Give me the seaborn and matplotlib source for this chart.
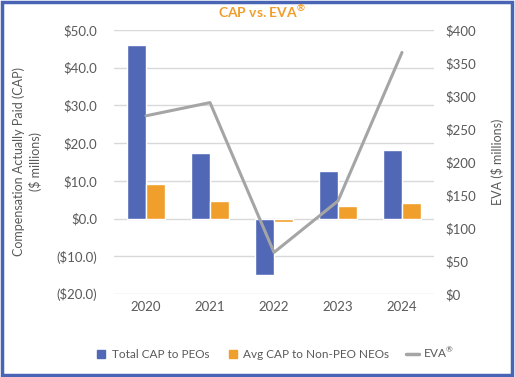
import pandas as pd
import seaborn as sns
import matplotlib.pyplot as plt
from matplotlib.patches import Rectangle
from matplotlib.lines import Line2D

# values ($ millions)
years = ['2020', '2021', '2022', '2023', '2024']
cap_peo = [46.1, 17.3, -15.0, 12.7, 18.1]
cap_neo = [9.1, 4.7, -1.0, 3.4, 4.2]
eva = [270, 290, 63, 141, 366]

series_names = ['Total CAP to PEOs', 'Avg CAP to Non-PEO NEOs']
blue = '#5068B6'
orange = '#F09E2C'
grey = '#A5A5A5'
text_col = '#595959'

bars = pd.DataFrame({
    'Year': years * 2,
    'CAP': cap_peo + cap_neo,
    'Series': [series_names[0]] * len(years) + [series_names[1]] * len(years),
})
line = pd.DataFrame({'Year': years, 'EVA': eva})

sns.set_theme(style='white')
plt.rcParams['font.family'] = ['Lato', 'DejaVu Sans']
plt.rcParams['mathtext.fontset'] = 'custom'
plt.rcParams['mathtext.rm'] = 'Lato'
plt.rcParams['mathtext.bf'] = 'Lato:bold'

fig = plt.figure(figsize=(5.15, 3.77), dpi=100)
ax = fig.add_axes([0.2214, 0.2202, 0.6213, 0.7002])

sns.barplot(data=bars, x='Year', y='CAP', hue='Series', palette=[blue, orange],
            width=0.58, saturation=1, ax=ax, legend=False)
ax.set_ylim(-20, 50)
ax.set_yticks(range(-20, 51, 10))
ax.set_yticklabels([f'(${-v:.1f})' if v < 0 else f'${v:.1f}' for v in range(-20, 51, 10)])
ax.grid(axis='y', color='#D9D9D9', linewidth=1)
ax.set_axisbelow(True)
ax.set_xlabel('')
ax.set_ylabel('Compensation Actually Paid (CAP)\n($ millions)', color=text_col,
              fontsize=9, linespacing=1.35, va='center')
ax.yaxis.set_label_coords(-0.27, 0.5)
ax.tick_params(axis='both', length=0, labelsize=9.5, labelcolor=text_col)
ax.tick_params(axis='x', pad=5)
ax.tick_params(axis='y', pad=12)
sns.despine(ax=ax, left=True, bottom=True)

ax2 = ax.twinx()
sns.lineplot(data=line, x='Year', y='EVA', color=grey, linewidth=2.2, ax=ax2, sort=False)
ax2.set_ylim(0, 400)
ax2.set_yticks(range(0, 401, 50))
ax2.set_yticklabels([f'${v}' for v in range(0, 401, 50)])
ax2.set_ylabel('EVA ($ millions)', color=text_col, fontsize=9, va='center')
ax2.yaxis.set_label_coords(1.197, 0.5)
ax2.tick_params(axis='y', length=0, labelsize=9.5, labelcolor=text_col, pad=8)
ax2.grid(False)
sns.despine(ax=ax2, left=True, bottom=True, right=True)
ax.set_xlim(-0.5, 4.5)

fig.text(0.509, 0.97, r'CAP vs. EVA$^{\mathbf{®}}$', color=orange, fontsize=10,
         fontweight='bold', ha='center', va='center')

handles = [
    Line2D([], [], marker='s', linestyle='', color=blue, markersize=5.5),
    Line2D([], [], marker='s', linestyle='', color=orange, markersize=5.5),
    Line2D([], [], color=grey, linewidth=2.5),
]
fig.legend(handles, series_names + [r'EVA$^{\mathrm{®}}$'], loc='center',
           bbox_to_anchor=(0.533, 0.066), ncol=3, frameon=False, fontsize=8.5,
           handlelength=1.1, handletextpad=0.35, columnspacing=1.4, labelcolor=text_col)

fig.patches.append(Rectangle((0.003, 0.004), 0.992, 0.99, transform=fig.transFigure,
                             fill=False, edgecolor='#4A64B5', linewidth=2.5))

plt.savefig('out.png', dpi=100, facecolor='w')
